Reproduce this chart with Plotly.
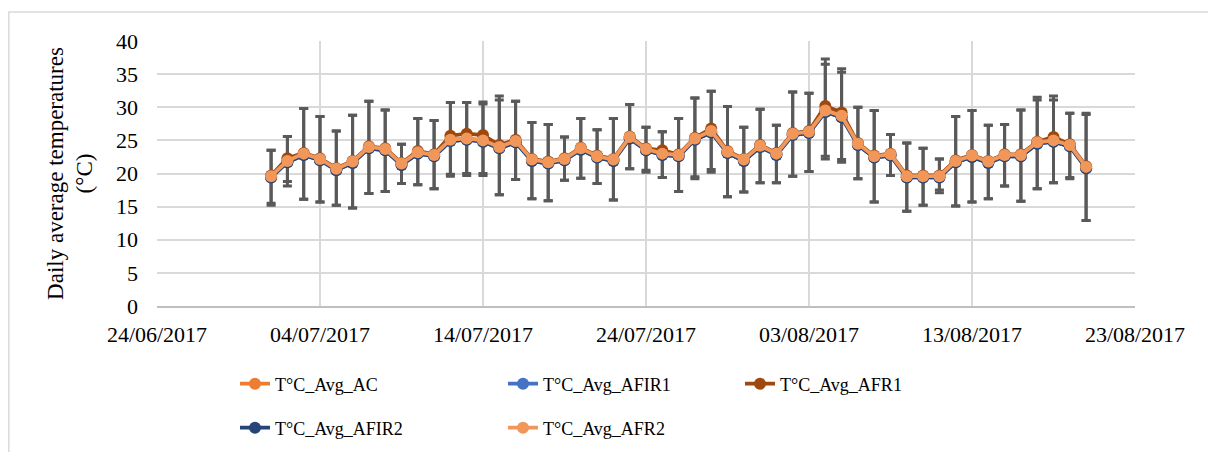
import plotly.graph_objects as go
import pandas as pd

dates = [d.strftime("%Y-%m-%d") for d in pd.date_range("2017-07-01", "2017-08-20", freq="D")]

avg_ac = [19.6, 21.9, 23.0, 22.2, 20.7, 21.8, 24.0, 23.7, 21.5, 23.2, 22.8, 25.1, 25.3, 25.0, 24.0,
          24.9, 22.1, 21.7, 22.2, 23.8, 22.6, 22.1, 25.5, 23.7, 23.0, 22.8, 25.3, 26.4, 23.3, 22.1,
          24.2, 23.0, 26.0, 26.3, 29.5, 28.7, 24.5, 22.6, 22.9, 19.6, 19.6, 19.6, 21.9, 22.7, 21.8,
          22.8, 22.8, 24.7, 25.0, 24.3, 21.0]
avg_afir1 = [19.4, 21.7, 22.8, 22.0, 20.5, 21.6, 23.8, 23.5, 21.3, 23.0, 22.6, 24.9, 25.1, 24.8, 23.8,
             24.7, 21.9, 21.5, 22.0, 23.6, 22.4, 21.9, 25.3, 23.5, 22.8, 22.6, 25.1, 26.2, 23.1, 21.9,
             24.0, 22.8, 25.8, 26.1, 29.3, 28.5, 24.3, 22.4, 22.7, 19.4, 19.4, 19.4, 21.7, 22.5, 21.6,
             22.6, 22.6, 24.5, 24.8, 24.1, 20.8]
avg_afr1 = [19.7, 22.3, 23.1, 22.3, 20.8, 21.9, 24.1, 23.8, 21.6, 23.4, 22.9, 25.7, 26.0, 25.8, 24.3,
            25.1, 22.2, 21.8, 22.3, 23.9, 22.7, 22.2, 25.6, 23.8, 23.5, 22.9, 25.4, 26.8, 23.4, 22.2,
            24.3, 23.1, 26.1, 26.4, 30.2, 29.2, 24.6, 22.7, 23.0, 19.7, 19.7, 19.7, 22.0, 22.8, 21.9,
            22.9, 22.9, 24.8, 25.5, 24.4, 21.1]
avg_afir2 = [19.4, 21.7, 22.8, 22.0, 20.5, 21.6, 23.8, 23.5, 21.3, 23.0, 22.6, 24.9, 25.1, 24.8, 23.8,
             24.7, 21.9, 21.5, 22.0, 23.6, 22.4, 21.9, 25.3, 23.5, 22.8, 22.6, 25.1, 26.2, 23.1, 21.9,
             24.0, 22.8, 25.8, 26.1, 29.3, 28.5, 24.3, 22.4, 22.7, 19.4, 19.4, 19.4, 21.7, 22.5, 21.6,
             22.6, 22.6, 24.5, 24.8, 24.1, 20.8]
avg_afr2 = [19.6, 21.9, 23.0, 22.2, 20.7, 21.8, 24.0, 23.7, 21.5, 23.2, 22.8, 25.1, 25.3, 25.0, 24.0,
            24.9, 22.1, 21.7, 22.2, 23.8, 22.6, 22.1, 25.5, 23.7, 23.0, 22.8, 25.3, 26.4, 23.3, 22.1,
            24.2, 23.0, 26.0, 26.3, 29.5, 28.7, 24.5, 22.6, 22.9, 19.6, 19.6, 19.6, 21.9, 22.7, 21.8,
            22.8, 22.8, 24.7, 25.0, 24.3, 21.0]

# error bar extremes (upper / lower values)
upper_a = [23.5, 25.6, 29.8, 28.6, 26.4, 28.8, 30.9, 29.6, 24.4, 28.3, 28.0, 30.7, 30.7, 30.5, 31.7,
           30.9, 27.7, 27.4, 25.5, 28.3, 26.6, 28.3, 30.4, 27.0, 26.3, 28.3, 31.4, 32.4, 30.1, 27.0,
           29.7, 27.3, 32.3, 32.1, 37.3, 35.8, 30.0, 29.5, 25.9, 24.6, 23.8, 22.2, 28.6, 29.5, 27.3,
           27.4, 29.6, 31.5, 31.7, 29.1, 29.1]
lower_a = [15.5, 18.1, 16.1, 15.7, 15.2, 14.8, 17.0, 17.3, 18.5, 18.3, 17.7, 19.6, 19.7, 19.7, 16.8,
           19.1, 16.2, 15.9, 19.0, 19.3, 18.5, 16.0, 20.7, 20.2, 19.4, 17.3, 19.2, 20.2, 16.5, 17.2,
           18.6, 18.6, 19.6, 20.3, 22.2, 21.7, 19.2, 15.7, 19.7, 14.3, 15.2, 17.1, 15.1, 15.7, 16.2,
           18.1, 15.8, 17.7, 18.6, 19.2, 12.9]
upper_b = [23.5, 25.6, 29.8, 28.6, 26.4, 28.8, 30.9, 29.6, 24.4, 28.3, 28.0, 30.7, 30.7, 30.8, 31.1,
           30.9, 27.7, 27.4, 25.5, 28.3, 26.6, 28.3, 30.4, 27.0, 26.3, 28.3, 31.4, 32.4, 30.1, 27.0,
           29.7, 27.3, 32.3, 32.1, 36.5, 35.3, 30.0, 29.5, 25.9, 24.6, 23.8, 22.2, 28.6, 29.5, 27.3,
           27.4, 29.6, 31.1, 31.1, 29.1, 28.9]
lower_b = [15.2, 18.8, 16.1, 15.7, 15.2, 14.8, 17.0, 17.3, 18.5, 18.3, 17.7, 19.9, 20.0, 20.0, 16.8,
           19.1, 16.2, 15.9, 19.0, 19.3, 18.5, 16.0, 20.7, 20.5, 19.4, 17.3, 19.5, 20.6, 16.5, 17.2,
           18.6, 18.6, 19.6, 20.3, 22.6, 22.1, 19.2, 15.7, 19.7, 14.3, 15.2, 17.5, 15.1, 15.7, 16.2,
           18.1, 15.8, 17.7, 18.6, 19.4, 12.9]

names = ["T°C_Avg_AC", "T°C_Avg_AFIR1", "T°C_Avg_AFR1", "T°C_Avg_AFIR2", "T°C_Avg_AFR2"]
colors = ["#ED7D31", "#4472C4", "#9E480E", "#264478", "#F1975A"]
series = [avg_ac, avg_afir1, avg_afr1, avg_afir2, avg_afr2]
errors = [(upper_a, lower_a), None, (upper_b, lower_b), None, None]
legends = ["legend", "legend2", "legend3", "legend4", "legend5"]

FONT = "Liberation Serif, Times New Roman, serif"
fig = go.Figure()
for name, col, vals, err, lg in zip(names, colors, series, errors, legends):
    kw = {}
    if err is not None:
        up, lo = err
        kw["error_y"] = dict(type="data", symmetric=False,
                             array=[u - v for u, v in zip(up, vals)],
                             arrayminus=[v - l for v, l in zip(vals, lo)],
                             color="#595959", thickness=3, width=4.5)
    fig.add_trace(go.Scatter(x=dates, y=vals, name=name, mode="lines+markers",
                             line=dict(color=col, width=3.75),
                             marker=dict(color=col, size=12),
                             legend=lg, **kw))

# outer chart border
fig.add_shape(type="rect", xref="paper", yref="paper",
              x0=-0.1515, x1=1.08, y0=-0.57, y1=1.109,
              line=dict(color="#D9D9D9", width=1.5), layer="below")

leg_common = dict(orientation="h", xref="container", yref="container",
                  xanchor="left", yanchor="middle", bgcolor="rgba(0,0,0,0)",
                  font=dict(family=FONT, size=18, color="#000000"))
leg_pos = {"legend": (235, 384), "legend2": (503, 384), "legend3": (740, 384),
           "legend4": (235, 428), "legend5": (503, 428)}
leg_layout = {k: dict(x=px / 1208, y=1 - py / 452, **leg_common) for k, (px, py) in leg_pos.items()}

fig.update_layout(
    width=1208, height=452,
    margin=dict(l=157, r=73, t=41, b=146),
    plot_bgcolor="white", paper_bgcolor="white",
    font=dict(family=FONT, size=22, color="#000000"),
    showlegend=True,
    xaxis=dict(type="date", range=["2017-06-24", "2017-08-23"],
               tick0="2017-06-24", dtick=864000000, tickformat="%d/%m/%Y",
               showgrid=True, gridcolor="#D9D9D9", gridwidth=1.5,
               showline=True, linecolor="#BFBFBF", linewidth=1.5, mirror=False,
               ticks="", ticklabelstandoff=8, zeroline=False,
               tickfont=dict(family=FONT, size=22)),
    yaxis=dict(range=[0, 40], dtick=5, showgrid=True, gridcolor="#D9D9D9", gridwidth=1.5,
               showline=False, zeroline=False, ticks="", ticklabelstandoff=18,
               tickfont=dict(family=FONT, size=22),
               title=dict(text="Daily average temperatures<br>(°C)", standoff=16,
                          font=dict(family=FONT, size=23))),
    **leg_layout,
)

fig.write_html("out.html", config={"displayModeBar": False},
               post_script="document.body.style.margin='0px';")
